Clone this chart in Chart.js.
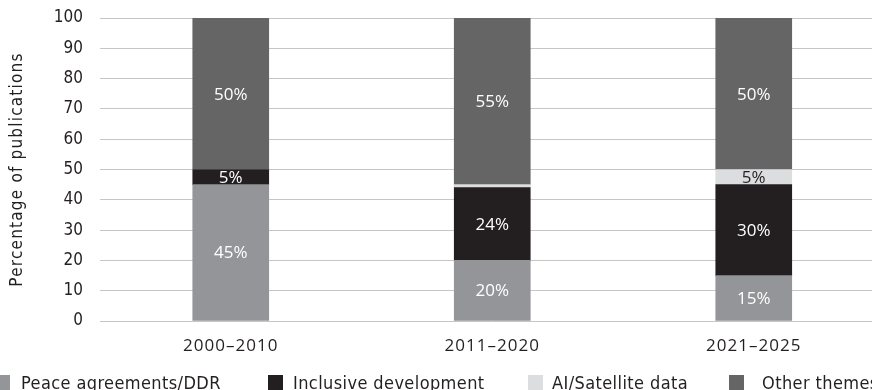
<!DOCTYPE html>
<html>
<head>
<meta charset="utf-8">
<script src="https://cdn.jsdelivr.net/npm/chart.js@4/dist/chart.umd.min.js"></script>
<style>
  html, body { margin: 0; padding: 0; background: #ffffff; overflow: hidden; }
  #wrap { position: relative; width: 886px; height: 394px; }
</style>
</head>
<body>
<div id="wrap"><canvas id="chart"></canvas></div>
<script>
// Share of publications by theme, per period (percent)
const periods = ['2000–2010', '2011–2020', '2021–2025'];
const seriesNames = ['Peace agreements/DDR', 'Inclusive development', 'AI/Satellite data', 'Other themes'];
const peaceAgreements = [45, 20, 15];
const inclusiveDevelopment = [5, 24, 30];
const aiSatellite = [0, 1, 5];
const otherThemes = [50, 55, 50];
const yTicks = [0, 10, 20, 30, 40, 50, 60, 70, 80, 90, 100];
const yTitle = 'Percentage of publications';

const seriesColors = ['#939598', '#231f20', '#dcdddf', '#656565'];
const labelColors = ['#ffffff', '#ffffff', '#231f20', '#ffffff'];
const inkColor = '#231f20';
const condensed = '"DejaVu Sans Condensed", "DejaVu Sans", sans-serif';
const humanist = '"Open Sans", "Noto Sans", sans-serif';

const seriesValues = [peaceAgreements, inclusiveDevelopment, aiSatellite, otherThemes];
const datasets = seriesNames.map((name, i) => ({
  label: name,
  data: seriesValues[i],
  backgroundColor: seriesColors[i],
  borderWidth: 0,
  barThickness: 76
}));

// Give each axis its own letter spacing when its tick labels are drawn
function withTracking(spacing) {
  return function (scale) {
    if (scale._tracked) return;
    const draw = scale.drawLabels.bind(scale);
    scale.drawLabels = function (area) {
      const ctx = this.ctx;
      ctx.save();
      ctx.letterSpacing = spacing;
      draw(area);
      ctx.restore();
    };
    scale._tracked = true;
  };
}

// Percent labels centred in each stacked segment, axis title and legend row
const decorPlugin = {
  id: 'decor',
  afterDatasetsDraw(chart) {
    const ctx = chart.ctx;
    ctx.save();
    ctx.letterSpacing = '0px';
    ctx.font = '17px ' + humanist;
    ctx.textAlign = 'center';
    ctx.textBaseline = 'middle';
    chart.data.datasets.forEach((ds, i) => {
      const meta = chart.getDatasetMeta(i);
      meta.data.forEach((bar, j) => {
        const v = ds.data[j];
        if (v < 5) return;
        ctx.fillStyle = labelColors[i];
        ctx.fillText(v + '%', bar.x, (bar.y + bar.base) / 2 + 1);
      });
    });
    ctx.restore();
  },
  afterDraw(chart) {
    const ctx = chart.ctx;
    const area = chart.chartArea;
    ctx.save();
    // y-axis title
    ctx.letterSpacing = '1.2px';
    ctx.font = '17px ' + condensed;
    ctx.fillStyle = inkColor;
    ctx.textAlign = 'center';
    ctx.textBaseline = 'middle';
    ctx.translate(18, (area.top + area.bottom) / 2);
    ctx.rotate(-Math.PI / 2);
    ctx.fillText(yTitle, 0, 0);
    ctx.restore();

    // legend row
    ctx.save();
    ctx.letterSpacing = '0.4px';
    ctx.font = '18px ' + condensed;
    ctx.textAlign = 'left';
    ctx.textBaseline = 'alphabetic';
    const boxX = [-5, 268, 528, 729];
    const textX = [21, 293, 552, 762];
    chart.data.datasets.forEach((ds, i) => {
      ctx.fillStyle = ds.backgroundColor;
      ctx.fillRect(boxX[i], 375, 15, 15);
      ctx.fillStyle = inkColor;
      ctx.fillText(ds.label, textX[i], 389);
    });
    ctx.restore();
  }
};

new Chart(document.getElementById('chart'), {
  type: 'bar',
  data: { labels: periods, datasets },
  plugins: [decorPlugin],
  options: {
    responsive: true,
    maintainAspectRatio: false,
    animation: false,
    layout: { padding: { top: 18, right: 1.5, bottom: 0, left: 0 } },
    plugins: {
      legend: { display: false },
      tooltip: { enabled: false },
      title: { display: false }
    },
    scales: {
      x: {
        stacked: true,
        grid: { display: false, drawTicks: false },
        border: { display: false },
        ticks: {
          color: inkColor,
          font: { family: humanist, size: 17 },
          padding: 15
        },
        afterFit(scale) { scale.height = 73; withTracking('1px')(scale); }
      },
      y: {
        stacked: true,
        min: 0,
        max: 100,
        afterBuildTicks(scale) { scale.ticks = yTicks.map(v => ({ value: v })); },
        grid: {
          color: '#c6c6c6',
          lineWidth: 1,
          drawTicks: true,
          tickLength: 14,
          tickColor: 'rgba(0,0,0,0)'
        },
        border: { display: false },
        ticks: {
          color: inkColor,
          font: { family: condensed, size: 17 },
          padding: 3
        },
        afterFit(scale) { scale.width = 100; withTracking('0px')(scale); }
      }
    }
  }
});
</script>
</body>
</html>
